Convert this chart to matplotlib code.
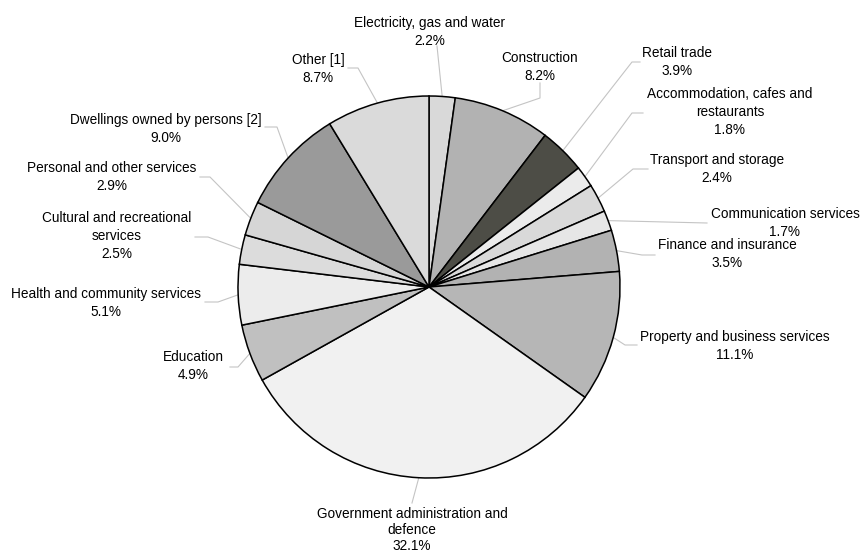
import matplotlib
matplotlib.use("Agg")
import matplotlib.pyplot as plt
import numpy as np

plt.rcParams['font.family'] = ['Liberation Sans', 'DejaVu Sans']

categories = [
    "Electricity, gas and water",
    "Construction",
    "Retail trade",
    "Accommodation, cafes and\nrestaurants",
    "Transport and storage",
    "Communication services",
    "Finance and insurance",
    "Property and business services",
    "Government administration and\ndefence",
    "Education",
    "Health and community services",
    "Cultural and recreational\nservices",
    "Personal and other services",
    "Dwellings owned by persons [2]",
    "Other [1]",
]
values = [2.2, 8.2, 3.9, 1.8, 2.4, 1.7, 3.5, 11.1, 32.1, 4.9, 5.1, 2.5, 2.9, 9.0, 8.7]

colors = ["#d9d9d9", "#b2b2b2", "#4d4d46", "#ebebeb", "#d9d9d9", "#e6e6e6", "#b2b2b2",
          "#b6b6b6", "#f1f1f1", "#c0c0c0", "#ececec", "#dcdcdc", "#d6d6d6", "#9a9a9a", "#dadada"]

# label block centres (pixel coords), and leader start / knee points
text_pos = [(430, 32), (540, 67), (677, 62), (730, 112), (717, 169), (785, 223),
            (727, 254), (735, 346), (412, 530), (193, 366), (106, 303), (117, 236),
            (112, 177), (166, 129), (318, 69)]
line_sp = [1.36] * 8 + [1.22] + [1.36] * 6
leader_start = [(437, 46), (540, 83), (640, 62), (643, 113), (648, 169), (707, 223),
                (655, 255), (637, 345), (412, 503), (230, 367), (205, 302), (195, 237),
                (200, 177), (265, 127), (348, 68)]
leader_knee = [(437, 46), (540, 98), (632, 62), (632, 113), (633, 169), (707, 223),
               (642, 255), (625, 345), (412, 503), (238, 367), (218, 302), (208, 237),
               (210, 177), (277, 127), (358, 68)]

W, H = 862, 553
fig = plt.figure(figsize=(W / 100, H / 100), dpi=100)
ax = fig.add_axes([0, 0, 1, 1])

cx, cy, R = 429, 287, 191
wedges, _ = ax.pie(values, colors=colors, startangle=-90, counterclock=True,
                   center=(cx, cy), radius=R, frame=True,
                   wedgeprops=dict(edgecolor='black', linewidth=1.1))
ax.set_xlim(0, W)
ax.set_ylim(H, 0)
ax.set_aspect('equal')
ax.axis('off')

for i, w in enumerate(wedges):
    mid = np.deg2rad((w.theta1 + w.theta2) / 2)
    ex, ey = cx + R * np.cos(mid), cy + R * np.sin(mid)
    sx, sy = leader_start[i]
    kx, ky = leader_knee[i]
    ax.plot([sx, kx, ex], [sy, ky, ey], color='#c4c4c4', lw=0.8, zorder=0)
    tx, ty = text_pos[i]
    ax.text(tx, ty, f"{categories[i]}\n{values[i]:.1f}%", ha='center', va='center',
            fontsize=9.8, linespacing=line_sp[i], color='black')

fig.savefig("out.png", dpi=100)
